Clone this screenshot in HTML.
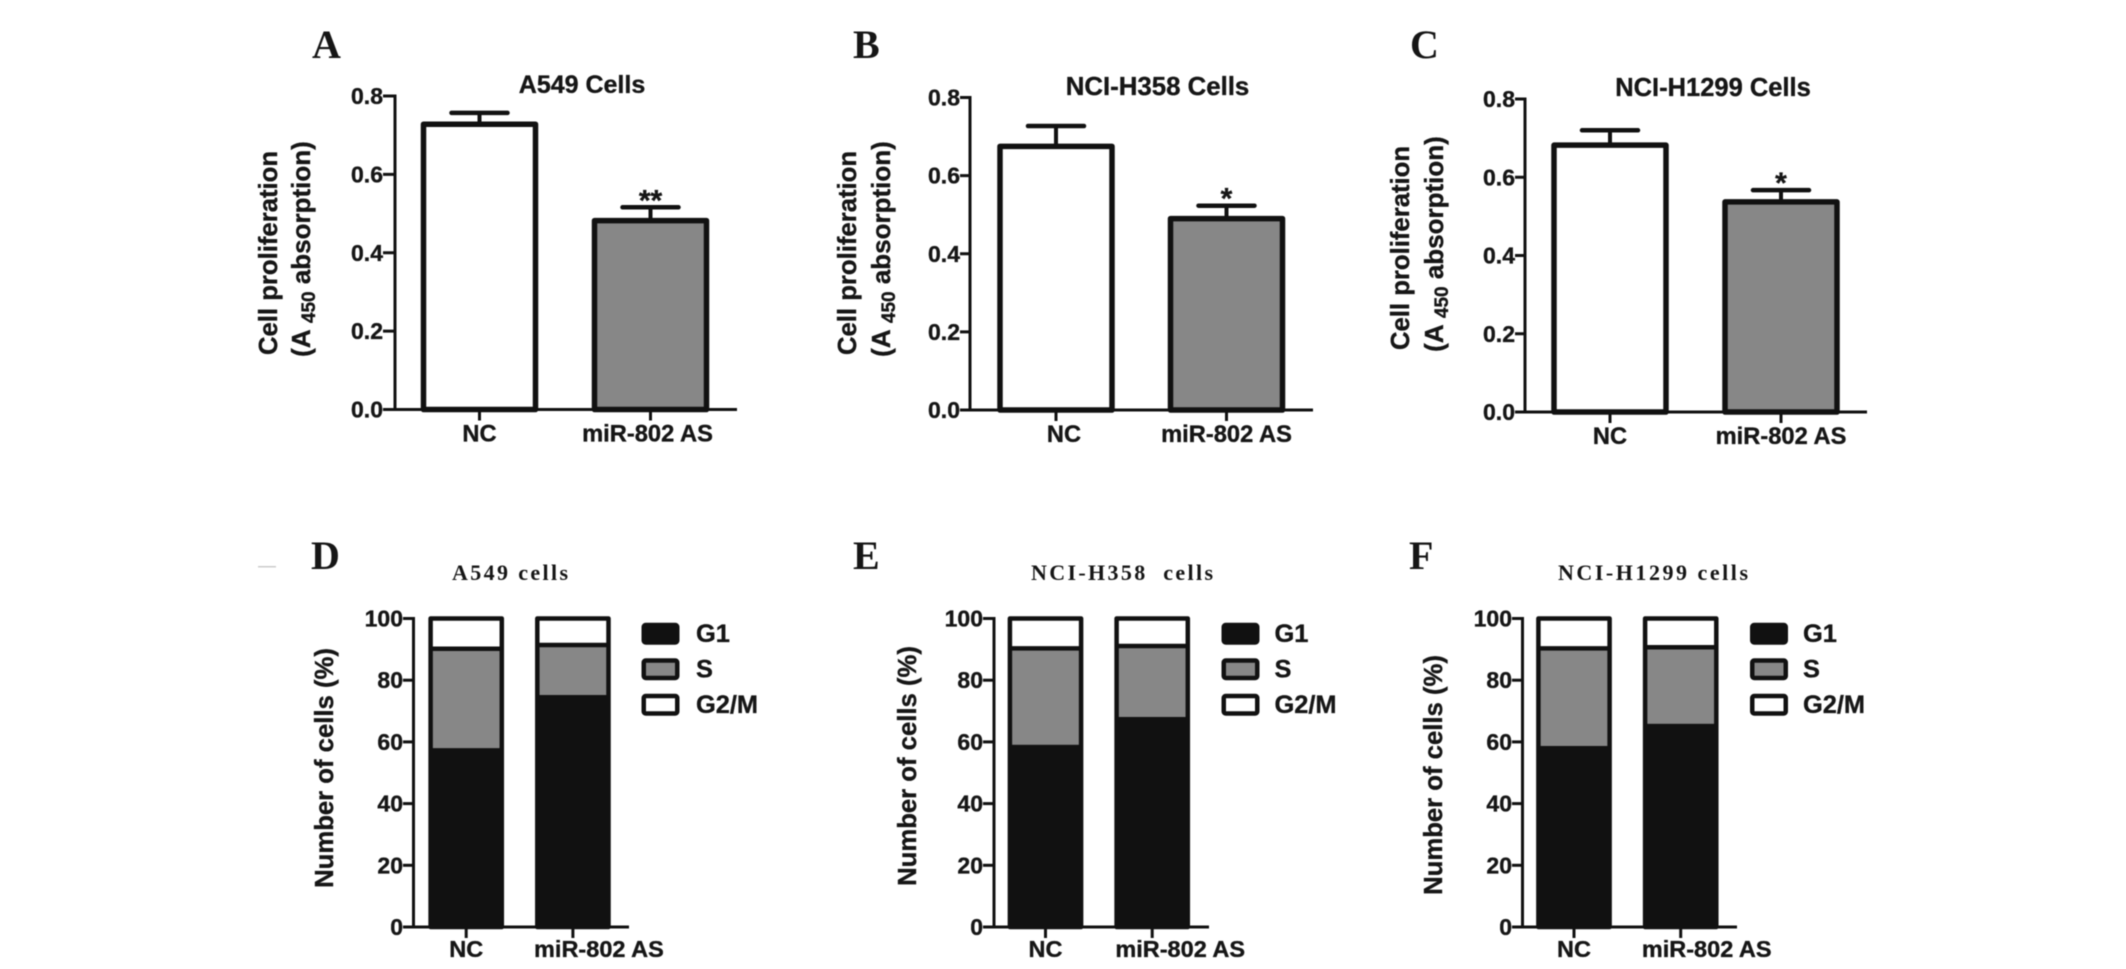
<!DOCTYPE html>
<html lang="en">
<head>
<meta charset="utf-8">
<title>miR-802 AS cell proliferation and cell cycle</title>
<style>
html,body{margin:0;padding:0;background:#fff;width:2126px;height:969px;overflow:hidden}
svg{display:block;filter:blur(.45px)}
text{fill:#161616}
.sans{font-family:"Liberation Sans",Arial,sans-serif;font-weight:700;stroke:#161616;stroke-width:.35px}
.serif{font-family:"Liberation Serif","Times New Roman",serif;font-weight:700}
</style>
</head>
<body>
<svg id="figure" xmlns="http://www.w3.org/2000/svg" width="2126" height="969" viewBox="0 0 2126 969">
<rect width="2126" height="969" fill="#fff"/>
<rect x="258" y="566" width="18" height="1.5" fill="#ccc"/>
</svg>
<script>
// ---- data ----
const barCategories = ['NC', 'miR-802 AS'];
const barTicks = [0, 0.2, 0.4, 0.6, 0.8];
const barTickLabels = ['0.0', '0.2', '0.4', '0.6', '0.8'];
const meansA = [0.728, 0.482];
const errTopsA = [0.757, 0.516];
const starsA = ['', '**'];
const meansB = [0.675, 0.490];
const errTopsB = [0.727, 0.523];
const starsB = ['', '*'];
const meansC = [0.682, 0.537];
const errTopsC = [0.720, 0.567];
const starsC = ['', '*'];

const stackTicks = [0, 20, 40, 60, 80, 100];
const stackTickLabels = ['0', '20', '40', '60', '80', '100'];
const legendLabels = ['G1', 'S', 'G2/M'];
const g1D = [58.0, 75.2];
const sD = [32.2, 16.2];
const g2mD = [9.8, 8.6];
const g1E = [59.1, 68.1];
const sE = [31.2, 23.0];
const g2mE = [9.7, 8.9];
const g1F = [58.7, 65.9];
const sF = [31.6, 24.8];
const g2mF = [9.7, 9.3];

// ---- layout ----
const barPanels = [
  {id:'a', letter:'A', lx:312, ly:58, title:'A549 Cells', tx:582, ty:93, tsize:25, axisX:395, y0:409.5, yTop:96, tickL:383, end:737, c0:479.5, step:171, lab:[0,-3], means:meansA, errs:errTopsA, stars:starsA, t1x:277, t1y:253, t2x:310, t2y:249},
  {id:'b', letter:'B', lx:853, ly:58, title:'NCI-H358 Cells', tx:1157.5, ty:95, tsize:25.8, axisX:970, y0:410, yTop:97.5, tickL:960, end:1313, c0:1056, step:170.5, lab:[8,0], means:meansB, errs:errTopsB, stars:starsB, t1x:856, t1y:253, t2x:890, t2y:249},
  {id:'c', letter:'C', lx:1410, ly:58, title:'NCI-H1299 Cells', tx:1713, ty:96, tsize:25.5, axisX:1525, y0:412, yTop:99, tickL:1515, end:1867, c0:1610, step:171, lab:[0,0], means:meansC, errs:errTopsC, stars:starsC, t1x:1409, t1y:248, t2x:1443, t2y:244}
];
const stackPanels = [
  {id:'d', letter:'D', lx:311, ly:569, title:'A549 cells', tx:452, tw:116, axisX:413.5, tickL:403, end:629, c0:466.2, lab:26, legX:641.5, legTx:696, g1:g1D, s:sD, g2m:g2mD, tiX:333, tiY:768},
  {id:'e', letter:'E', lx:853, ly:569, title:'NCI-H358  cells', tx:1031, tw:182, axisX:994, tickL:983, end:1209, c0:1045.5, lab:28, legX:1221.5, legTx:1274.5, g1:g1E, s:sE, g2m:g2mE, tiX:916, tiY:766},
  {id:'f', letter:'F', lx:1409, ly:569, title:'NCI-H1299 cells', tx:1558, tw:190, axisX:1522.5, tickL:1512, end:1737, c0:1574, lab:26, legX:1750, legTx:1803, g1:g1F, s:sF, g2m:g2mF, tiX:1442, tiY:775}
];
const INK = '#111';
const GREY = '#878787';
const svg = document.getElementById('figure');
const NS = 'http://www.w3.org/2000/svg';

function mk(tag, attrs, parent) {
  const el = document.createElementNS(NS, tag);
  for (const k in attrs) el.setAttribute(k, attrs[k]);
  parent.appendChild(el);
  return el;
}
function line(parent, x1, y1, x2, y2, w) {
  return mk('line', {x1:x1, y1:y1, x2:x2, y2:y2, stroke:INK, 'stroke-width':w}, parent);
}
function label(parent, cls, x, y, size, str, anchor) {
  const el = mk('text', {class:cls, x:x, y:y, 'font-size':size, 'text-anchor':anchor || 'start'}, parent);
  el.textContent = str;
  return el;
}

// ---- bar panels A-C ----
barPanels.forEach(function (p) {
  const g = mk('g', {}, svg);
  
  
  const yScale = function (v) { return p.y0 - (v / 0.8) * (p.y0 - p.yTop); };
  const xCenter = function (i) { return p.c0 + i * p.step; };
  const halfBar = 56;

  const letter = label(g, 'serif', p.lx, p.ly, 40, p.letter);
  
  

  const title = label(g, 'sans', p.tx, p.ty, p.tsize, p.title, 'middle');
  
  

  const t1 = label(g, 'sans', 0, 0, 25.7, 'Cell proliferation', 'middle');
  t1.setAttribute('transform', 'translate(' + p.t1x + ',' + p.t1y + ') rotate(-90)');
  
  

  const t2 = mk('text', {class:'sans', x:0, y:0, 'font-size':26, 'text-anchor':'middle', transform:'translate(' + p.t2x + ',' + p.t2y + ') rotate(-90)'}, g);
  
  
  t2.appendChild(document.createTextNode('(A '));
  const sub = mk('tspan', {dy:5, 'font-size':19}, t2);
  sub.textContent = '450';
  const rest = mk('tspan', {dy:-5}, t2);
  rest.textContent = ' absorption)';

  p.means.forEach(function (v, i) {
    const cx = xCenter(i);
    const errStem = line(g, cx, yScale(v), cx, yScale(p.errs[i]), 4);
    
    
    const cap = line(g, cx - 28, yScale(p.errs[i]), cx + 28, yScale(p.errs[i]), 4.5);
    cap.setAttribute('stroke-linecap', 'round');
    
    
    const bar = mk('rect', {x:cx - halfBar, y:yScale(v), width:halfBar * 2, height:p.y0 - yScale(v), fill:i === 0 ? '#fff' : GREY, stroke:INK, 'stroke-width':5.5, 'stroke-linejoin':'round'}, g);
    
    
    if (p.stars[i]) {
      const star = label(g, 'sans', cx, yScale(p.errs[i]) + 3, 30, p.stars[i], 'middle');
      
      
    }
    const xt = line(g, cx, p.y0, cx, p.y0 + 11, 3);
    
    
    const xl = label(g, 'sans', cx + p.lab[i], p.y0 + 32, 23.7, barCategories[i], 'middle');
    
    
  });

  const yAxis = line(g, p.axisX, p.yTop - 1.5, p.axisX, p.y0, 3);
  
  
  const xAxis = line(g, p.tickL, p.y0, p.end, p.y0, 3);
  
  
  barTicks.forEach(function (t, i) {
    const tk = line(g, p.tickL, yScale(t), p.axisX, yScale(t), 3);
    
    
    const tl = label(g, 'sans', p.tickL, yScale(t) + 8, 23, barTickLabels[i], 'end');
    
    
  });
});

// ---- stacked panels D-F ----
stackPanels.forEach(function (p) {
  const g = mk('g', {}, svg);
  
  
  const y0 = 927, y100 = 618.5;
  const yScale = function (v) { return y0 - (v / 100) * (y0 - y100); };
  const xCenter = function (i) { return p.c0 + i * 106.7; };
  const halfBar = 35.6;

  const letter = label(g, 'serif', p.lx, p.ly, 40, p.letter);
  
  

  const title = label(g, 'serif', p.tx, 580, 22, p.title);
  title.setAttribute('textLength', p.tw);
  title.setAttribute('xml:space', 'preserve');
  title.style.whiteSpace = 'pre';
  
  

  const yt = label(g, 'sans', 0, 0, 25.7, 'Number of cells (%)', 'middle');
  yt.setAttribute('transform', 'translate(' + p.tiX + ',' + p.tiY + ') rotate(-90)');
  
  

  barCategories.forEach(function (cat, i) {
    const cx = xCenter(i);
    const a = p.g1[i], b = a + p.s[i], c = b + p.g2m[i];
    const segWhite = mk('rect', {x:cx - halfBar, y:yScale(c), width:halfBar * 2, height:yScale(b) - yScale(c), fill:'#fff'}, g);
    
    
    const segGrey = mk('rect', {x:cx - halfBar, y:yScale(b), width:halfBar * 2, height:yScale(a) - yScale(b), fill:GREY}, g);
    
    
    const segBlack = mk('rect', {x:cx - halfBar, y:yScale(a), width:halfBar * 2, height:yScale(0) - yScale(a), fill:INK}, g);
    
    
    const divider = line(g, cx - halfBar, yScale(b), cx + halfBar, yScale(b), 4.5);
    
    
    const outline = mk('rect', {x:cx - halfBar, y:yScale(c), width:halfBar * 2, height:yScale(0) - yScale(c), fill:'none', stroke:INK, 'stroke-width':4.5, 'stroke-linejoin':'round'}, g);
    
    
    const xt = line(g, cx, y0, cx, y0 + 11, 3);
    
    
    const xl = label(g, 'sans', cx + (i === 1 ? p.lab : 0), 957, 23.5, cat, 'middle');
    
    
  });

  const yAxis = line(g, p.axisX, y100 - 1.5, p.axisX, y0, 3);
  
  
  const xAxis = line(g, p.tickL, y0, p.end, y0, 3);
  
  
  stackTicks.forEach(function (t, i) {
    const tk = line(g, p.tickL, yScale(t), p.axisX, yScale(t), 3);
    
    
    const tl = label(g, 'sans', p.tickL, yScale(t) + 8, 23, stackTickLabels[i], 'end');
    
    
  });

  const swatchFill = [INK, GREY, '#fff'];
  legendLabels.forEach(function (name, i) {
    const top = 625 + i * 35.5;
    const sw = mk('rect', {x:p.legX + 2.25, y:top, width:33.5, height:17.5, rx:2, fill:swatchFill[i], stroke:INK, 'stroke-width':4.5}, g);
    
    
    const tx = label(g, 'sans', p.legTx, top + 17, 25.4, name);
    
    
  });
});
</script>
</body>
</html>
